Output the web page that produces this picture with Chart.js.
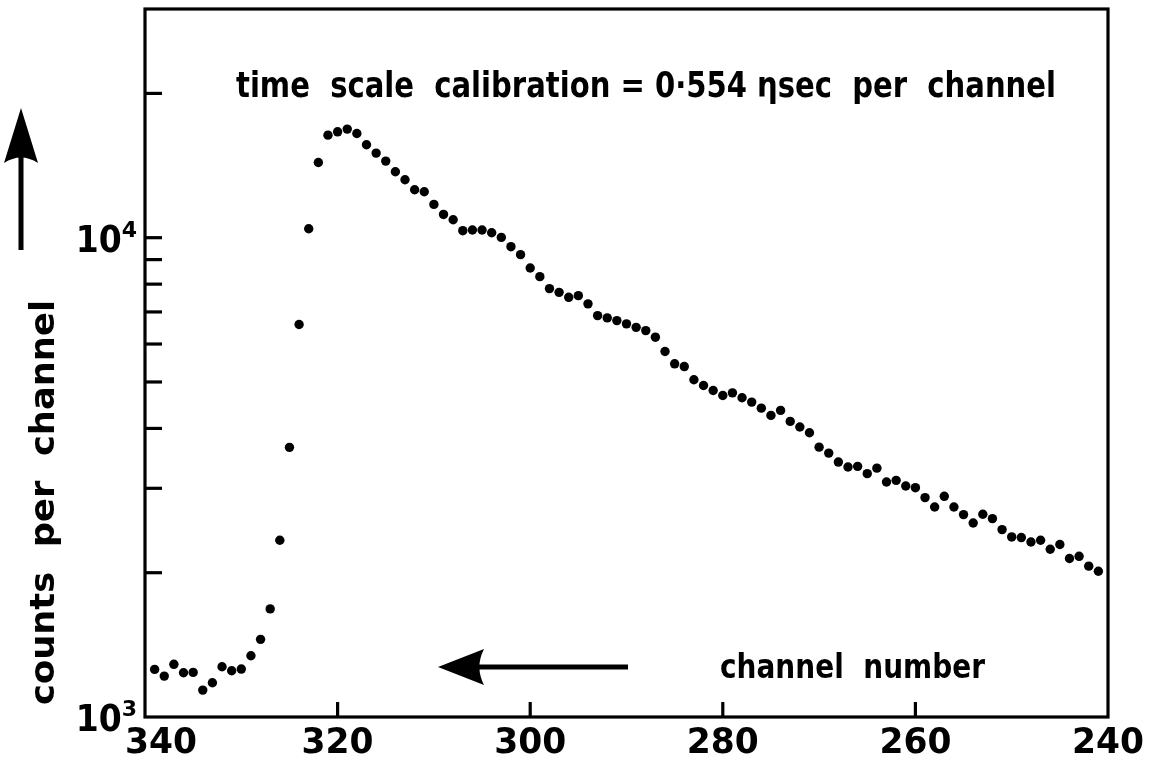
<!DOCTYPE html>
<html><head><meta charset="utf-8">
<script src="https://cdn.jsdelivr.net/npm/chart.js@4.4.1/dist/chart.umd.min.js"></script>
<style>html,body{margin:0;padding:0;background:#fff;} #wrap{width:1156px;height:759px;}</style>
</head><body><div id="wrap"><canvas id="c" width="1156" height="759"></canvas></div>
<script>
// ---- data ----
const channels = [339,338,337,336,335,334,333,332,331,330,329,328,327,326,325,324,323,322,321,320,
  319,318,317,316,315,314,313,312,311,310,309,308,307,306,305,304,303,302,301,300,
  299,298,297,296,295,294,293,292,291,290,289,288,287,286,285,284,283,282,281,280,
  279,278,277,276,275,274,273,272,271,270,269,268,267,266,265,264,263,262,261,260,
  259,258,257,256,255,254,253,252,251,250,249,248,247,246,245,244,243,242,241];
const counts = [1257,1217,1288,1237,1239,1138,1179,1273,1249,1259,1342,1452,1681,2338,3652,6589,10441,14350,16366,16630,
  16847,16494,15626,15015,14447,13725,13210,12589,12469,11734,11182,10901,10342,10375,10375,10242,10014,9577,9217,8647,
  8294,7830,7691,7509,7570,7277,6878,6803,6715,6610,6500,6400,6200,5788,5456,5384,5053,4917,4800,4686,
  4745,4634,4539,4409,4258,4362,4137,4027,3918,3656,3553,3403,3324,3334,3219,3305,3092,3117,3033,3009,
  2869,2742,2887,2742,2644,2540,2648,2594,2460,2375,2368,2318,2338,2239,2290,2141,2164,2064,2014];
const xTickValues = [340,320,300,280,260,240];
const xTickLabels = ['340','320','300','280','260','240'];
const yTickValues = [2000,3000,4000,5000,6000,7000,8000,9000,10000,20000];
const yLabelValues = [1000,10000];
const yLabelExponents = ['3','4'];
const titleText = 'time  scale  calibration = 0·554 ηsec  per  channel';
const yTitleText = 'counts  per  channel';
const xTitleText = 'channel  number';

const FONT = '"DejaVu Sans", sans-serif';

function fitText(ctx, text, x0, x1, y, size, weight) {
  ctx.save();
  ctx.font = weight + ' ' + size + 'px ' + FONT;
  const w = ctx.measureText(text).width;
  ctx.translate(x0, y);
  ctx.scale((x1 - x0) / w, 1);
  ctx.textAlign = 'left';
  ctx.textBaseline = 'alphabetic';
  ctx.fillStyle = '#000';
  ctx.fillText(text, 0, 0);
  ctx.restore();
}

function arrow(ctx, x0, y0, x1, y1, headLen, headHalf, shaftW) {
  const ang = Math.atan2(y1 - y0, x1 - x0);
  const len = Math.hypot(x1 - x0, y1 - y0);
  ctx.save();
  ctx.translate(x0, y0);
  ctx.rotate(ang);
  ctx.fillStyle = '#000';
  ctx.fillRect(0, -shaftW / 2, len - headLen * 0.7, shaftW);
  ctx.beginPath();
  ctx.moveTo(len, 0);
  ctx.lineTo(len - headLen, -headHalf);
  ctx.quadraticCurveTo(len - headLen * 0.8, 0, len - headLen, headHalf);
  ctx.closePath();
  ctx.fill();
  ctx.restore();
}

const annot = {
  id: 'annot',
  afterDraw(chart) {
    const ctx = chart.ctx;
    const a = chart.chartArea;
    const xs = chart.scales.x, ys = chart.scales.y;
    ctx.save();
    ctx.strokeStyle = '#000';
    ctx.lineWidth = 3.2;
    ctx.strokeRect(a.left, a.top, a.right - a.left, a.bottom - a.top);
    ctx.lineWidth = 3.2;
    yTickValues.forEach(v => {
      const y = ys.getPixelForValue(v);
      ctx.beginPath(); ctx.moveTo(a.left, y); ctx.lineTo(a.left + 17, y); ctx.stroke();
    });
    xTickValues.forEach(v => {
      if (v === xs.min || v === xs.max) return;
      const x = xs.getPixelForValue(v);
      ctx.beginPath(); ctx.moveTo(x, a.bottom); ctx.lineTo(x, a.bottom - 15); ctx.stroke();
    });
    // x tick labels
    ctx.fillStyle = '#000';
    xTickValues.forEach((v, i) => {
      let x = xs.getPixelForValue(v);
      if (i === 0) x += 16;
      ctx.font = 'bold 36px ' + FONT;
      const w = ctx.measureText(xTickLabels[i]).width;
      const tw = 72;
      ctx.save();
      ctx.translate(x - tw / 2, a.bottom + 36);
      ctx.scale(tw / w, 1);
      ctx.textAlign = 'left';
      ctx.textBaseline = 'alphabetic';
      ctx.fillText(xTickLabels[i], 0, 0);
      ctx.restore();
    });
    // y tick labels 10^n
    yLabelValues.forEach((v, i) => {
      const y = ys.getPixelForValue(v);
      ctx.font = 'bold 22px ' + FONT;
      ctx.textAlign = 'right';
      ctx.textBaseline = 'alphabetic';
      const supW = ctx.measureText(yLabelExponents[i]).width;
      ctx.fillText(yLabelExponents[i], 137, y - 1);
      ctx.font = 'bold 37px ' + FONT;
      const w = ctx.measureText('10').width;
      const tw = 46;
      ctx.save();
      ctx.translate(137 - supW - tw, y + 14);
      ctx.scale(tw / w, 1);
      ctx.textAlign = 'left';
      ctx.fillText('10', 0, 0);
      ctx.restore();
    });
    fitText(ctx, titleText, 236, 1056, 97, 36, 'bold');
    fitText(ctx, xTitleText, 720, 985, 678, 34, 'bold');
    arrow(ctx, 628, 667, 438, 667, 46, 18, 5);
    ctx.save();
    ctx.translate(54, 705);
    ctx.rotate(-Math.PI / 2);
    fitText(ctx, yTitleText, 0, 405, 0, 34, 'bold');
    ctx.restore();
    arrow(ctx, 21, 250, 21, 108, 55, 17, 5);
    ctx.restore();
  }
};

new Chart(document.getElementById('c'), {
  type: 'scatter',
  data: {
    datasets: [{
      data: channels.map((c, i) => ({ x: c, y: counts[i] })),
      pointRadius: 4.7,
      pointBackgroundColor: '#000',
      pointBorderWidth: 0,
      showLine: false
    }]
  },
  options: {
    responsive: false,
    animation: false,
    layout: { padding: { top: 9, right: 48, left: 0, bottom: 0 } },
    plugins: { legend: { display: false }, tooltip: { enabled: false } },
    scales: {
      x: {
        type: 'linear', reverse: true, min: 240, max: 340,
        grid: { display: false }, border: { display: false },
        ticks: { display: false },
        afterFit: s => { s.height = 42; }
      },
      y: {
        type: 'logarithmic', min: 1000, max: 30000,
        grid: { display: false }, border: { display: false },
        ticks: { display: false },
        afterFit: s => { s.width = 145; }
      }
    }
  },
  plugins: [annot]
});
</script>
</body></html>
